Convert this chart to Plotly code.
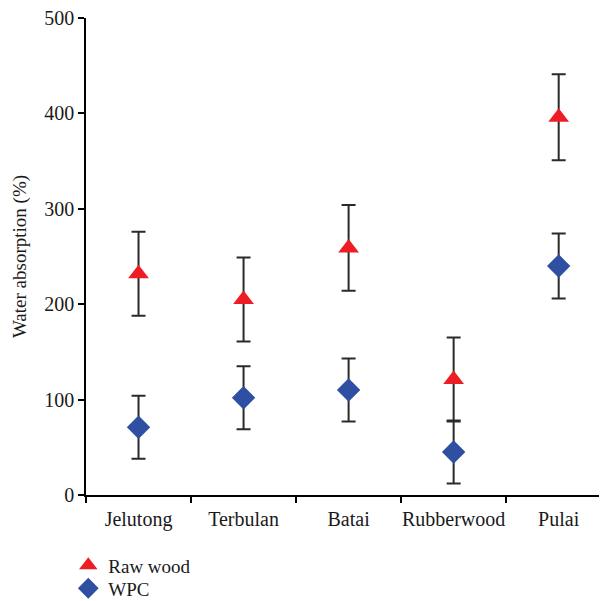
import plotly.graph_objects as go

categories = ["Jelutong", "Terbulan", "Batai", "Rubberwood", "Pulai"]
raw_wood = [232, 205, 259, 121, 396]
raw_wood_err = [44, 44, 45, 44, 45]
wpc = [71, 102, 110, 45, 240]
wpc_err = [33, 33, 33, 33, 34]
y_ticks = [0, 100, 200, 300, 400, 500]

FONT = "Liberation Serif"
ERR_COLOR = "#2a2a2a"

fig = go.Figure()
fig.add_trace(go.Scatter(
    x=categories, y=raw_wood, mode="markers", name="Raw wood",
    marker=dict(symbol="triangle-up", size=18, color="#ee1c25"),
    error_y=dict(type="data", array=raw_wood_err, visible=True,
                 color=ERR_COLOR, thickness=2, width=7),
    legend="legend",
))
fig.add_trace(go.Scatter(
    x=categories, y=wpc, mode="markers", name="WPC",
    marker=dict(symbol="diamond", size=18, color="#2f4fa2"),
    error_y=dict(type="data", array=wpc_err, visible=True,
                 color=ERR_COLOR, thickness=2, width=7),
    legend="legend2",
))

legend_common = dict(x=-0.034, xanchor="left", yanchor="top",
                     orientation="v", font=dict(family=FONT, size=19),
                     itemwidth=30, bgcolor="rgba(0,0,0,0)")

# page body has a default 8px margin, so the figure is drawn 8px in
fig.update_layout(
    width=599, height=593,
    margin=dict(l=78, r=0, t=10, b=106, autoexpand=False),
    paper_bgcolor="white", plot_bgcolor="white",
    font=dict(family=FONT, size=20, color="#1a1a1a"),
    showlegend=True,
    legend=dict(y=-0.108, **legend_common),
    legend2=dict(y=-0.156, **legend_common),
    xaxis=dict(
        type="category", range=[-0.5, 4.46], automargin=False,
        showline=True, linecolor="black", linewidth=1.5,
        ticks="outside", tickson="boundaries", ticklen=6,
        tickcolor="black", tickwidth=1.5, tickangle=0,
        ticklabelstandoff=5,
        showgrid=False, zeroline=False,
        tickfont=dict(family=FONT, size=20),
    ),
    yaxis=dict(
        range=[0, 500], tickvals=y_ticks, automargin=False,
        ticklabeloverflow="allow",
        showline=True, linecolor="black", linewidth=1.5,
        ticks="outside", ticklen=6, tickcolor="black", tickwidth=1.5,
        showgrid=False, zeroline=False,
        tickfont=dict(family=FONT, size=20),
        title=dict(text="Water absorption (%)", font=dict(family=FONT, size=19),
                   standoff=13),
    ),
)

fig.write_html("out.html")
